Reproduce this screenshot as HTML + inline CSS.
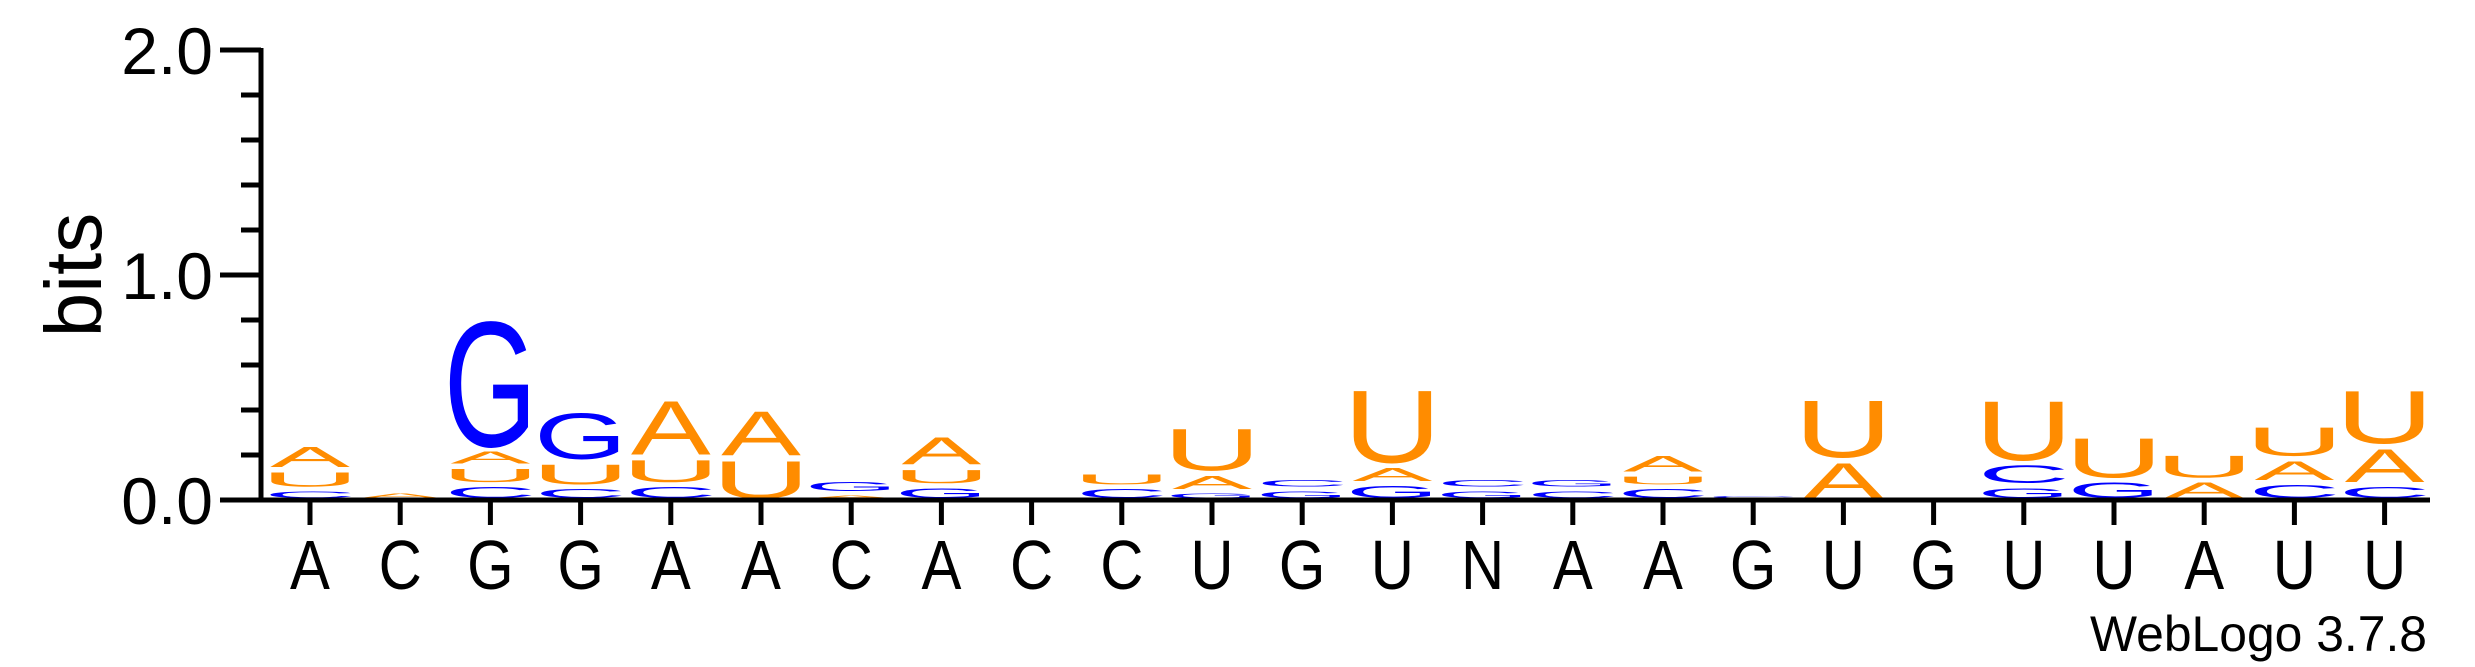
<!DOCTYPE html>
<html><head><meta charset="utf-8"><style>
html,body{margin:0;padding:0;background:#fff;}
svg{display:block;}
text{font-family:"Liberation Sans",sans-serif;}
</style></head><body>
<svg id="chart" width="2475" height="667" viewBox="0 0 2475 667" xmlns="http://www.w3.org/2000/svg">
<g id="marks"></g>
<g id="axes"></g>
</svg>
<script>
const positions = ["A","C","G","G","A","A","C","A","C","C","U","G","U","N","A","A","G","U","G","U","U","A","U","U"];
const stackLetters = [
 ["C","U","A"],["A"],["C","U","A","G"],["C","U","G"],["C","U","A"],["U","A"],["A","G"],["G","U","A"],
 [],["C","U"],["G","A","U"],["G","C"],["G","A","U"],["G","C"],["C","G"],["C","U","A"],["C"],["A","U"],
 [],["G","C","U"],["G","U"],["A","U"],["C","A","U"],["C","A","U"]
];
const stackBits = [
 [0.03,0.065,0.09],[0.02],[0.05,0.06,0.055,0.57],[0.04,0.09,0.21],[0.05,0.1,0.245],[0.17,0.2],[0.01,0.04],[0.045,0.06,0.125],
 [],[0.04,0.045],[0.02,0.06,0.19],[0.03,0.03],[0.055,0.06,0.33],[0.03,0.03],[0.03,0.03],[0.04,0.035,0.07],[0.01],[0.16,0.26],
 [],[0.045,0.08,0.27],[0.07,0.18],[0.07,0.1],[0.06,0.085,0.13],[0.05,0.15,0.24]
];
const yTicks = [0,1,2];
const yTickLabels = ["0.0","1.0","2.0"];
const minorTicks = [0.2,0.4,0.6,0.8,1.2,1.4,1.6,1.8];

const NS="http://www.w3.org/2000/svg";
const x0=310, dx=90.2, base=500, perBit=225, axisX=261, gap=0.022;
const xs=i=>x0+i*dx;
const ys=b=>base-b*perBit;
const colors={A:"#FF8C00",U:"#FF8C00",C:"#0000FF",G:"#0000FF"};
const inkW={A:0.66,C:0.62,G:0.66,U:0.58,N:0.58};
const marks=document.getElementById('marks');
const axes=document.getElementById('axes');
function mk(tag,attrs,parent){const e=document.createElementNS(NS,tag);for(const k in attrs)e.setAttribute(k,attrs[k]);parent.appendChild(e);return e;}

stackLetters.forEach((letters,i)=>{
  let cum=0.008;
  letters.forEach((L,j)=>{
    const h=stackBits[i][j];
    const y0=ys(cum), y1=ys(cum+h);
    cum+=h+gap;
    const hp=(y0-y1); if(hp<0.5) return;
    const F=100, sy=hp/(0.716*F), sx=79/(inkW[L]*F);
    const t=mk('text',{x:0,y:0,'font-size':F,'text-anchor':'middle',fill:colors[L],
      transform:`translate(${xs(i)},${y0}) scale(${sx},${sy})`},marks);
    t.textContent=L;
    
    
  });
});

const ya=mk('line',{x1:axisX,y1:48,x2:axisX,y2:502,stroke:'#000','stroke-width':5},axes);


const xa=mk('line',{x1:axisX-2,y1:base,x2:2430,y2:base,stroke:'#000','stroke-width':5},axes);


yTicks.forEach((v,k)=>{
  const l=mk('line',{x1:220,y1:ys(v),x2:axisX,y2:ys(v),stroke:'#000','stroke-width':5},axes);
  
  
  const t=mk('text',{x:213,y:ys(v)+24,'font-size':66,'text-anchor':'end',fill:'#000'},axes);
  t.textContent=yTickLabels[k];
  
  
});
minorTicks.forEach(v=>{
  const l=mk('line',{x1:241,y1:ys(v),x2:axisX,y2:ys(v),stroke:'#000','stroke-width':5},axes);
  
  
});
positions.forEach((p,i)=>{
  const l=mk('line',{x1:xs(i),y1:base,x2:xs(i),y2:525,stroke:'#000','stroke-width':5},axes);
  
  
  const t=mk('text',{x:0,y:0,'font-size':68,'text-anchor':'middle',fill:'#000',transform:`translate(${xs(i)},589) scale(0.88,1.03)`},axes);
  t.textContent=p;
  
  
});
const yt=mk('text',{x:0,y:0,'font-size':80,'text-anchor':'middle',fill:'#000',transform:'translate(101,275) rotate(-90)'},axes);
yt.textContent='bits';


const wl=mk('text',{x:2427,y:651,'font-size':50,'text-anchor':'end',fill:'#000',textLength:337,lengthAdjust:'spacingAndGlyphs'},axes);
wl.textContent='WebLogo 3.7.8';


</script>
</body></html>
